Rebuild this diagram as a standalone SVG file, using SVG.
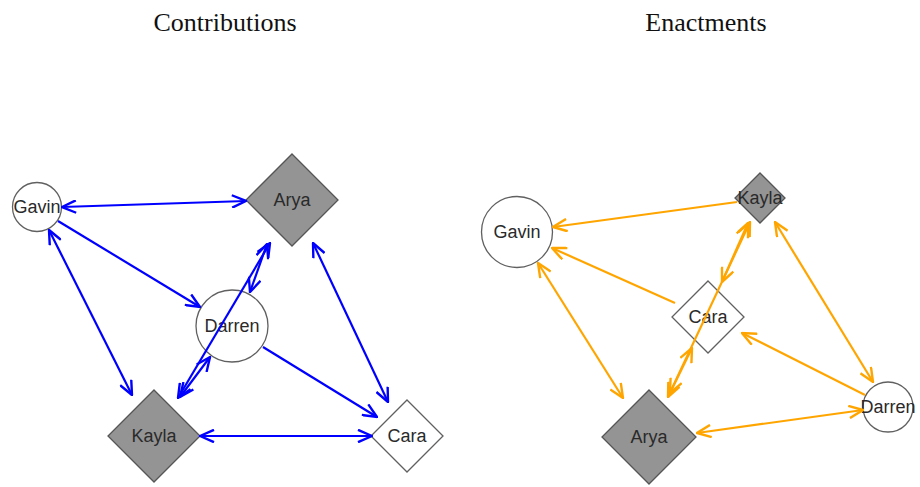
<svg xmlns="http://www.w3.org/2000/svg" width="920" height="487" viewBox="0 0 920 487">
<style>
.title{font-family:"Liberation Serif","Times New Roman",serif;font-size:26px;fill:#111;text-anchor:middle}
.lbl{font-family:"Liberation Sans",Arial,sans-serif;font-size:18px;fill:#2a2a2a;text-anchor:middle}
.w{fill:#fff;stroke:#606060;stroke-width:1.3}
.g{fill:#949494;stroke:#555;stroke-width:1.3}
.eb{stroke:#0000ff;stroke-width:2.2;fill:none}
.eo{stroke:#ffa500;stroke-width:2.2;fill:none}
</style>
<defs>
<marker id="ab" viewBox="0 0 16 14" refX="15" refY="7" markerWidth="16" markerHeight="14" markerUnits="userSpaceOnUse" orient="auto-start-reverse"><path d="M1,0.8 L15,7 L1,13.2" fill="none" stroke="#0000ff" stroke-width="2.4"/></marker>
<marker id="ao" viewBox="0 0 16 14" refX="15" refY="7" markerWidth="16" markerHeight="14" markerUnits="userSpaceOnUse" orient="auto-start-reverse"><path d="M1,0.8 L15,7 L1,13.2" fill="none" stroke="#ffa500" stroke-width="2.4"/></marker>
</defs>
<rect width="920" height="487" fill="#fff"/>
<text class="title" x="225" y="31">Contributions</text>
<text class="title" x="706" y="31">Enactments</text>

<g id="c-gavin"><circle class="w" cx="37" cy="207" r="24.5"/><text class="lbl" x="37" y="213">Gavin</text></g>
<g id="c-arya"><polygon class="g" points="292,154 338,200 292,246 246,200"/><text class="lbl" x="292" y="206">Arya</text></g>
<g id="c-darren"><circle class="w" cx="232" cy="326" r="36"/><text class="lbl" x="232" y="332">Darren</text></g>
<g id="c-kayla"><polygon class="g" points="154,390 200,436 154,482 108,436"/><text class="lbl" x="154" y="442">Kayla</text></g>
<g id="c-cara"><polygon class="w" points="407,400 443,436 407,472 371,436"/><text class="lbl" x="407" y="442">Cara</text></g>

<g id="e-gavin"><circle class="w" cx="517" cy="232" r="35.5"/><text class="lbl" x="517" y="238">Gavin</text></g>
<g id="e-kayla"><polygon class="g" points="760,173 785,198 760,223 735,198"/><text class="lbl" x="760" y="204">Kayla</text></g>
<g id="e-cara"><polygon class="w" points="708,281 744,317 708,353 672,317"/><text class="lbl" x="708" y="323">Cara</text></g>
<g id="e-arya"><polygon class="g" points="649,390 696,437 649,484 602,437"/><text class="lbl" x="649" y="443">Arya</text></g>
<g id="e-darren"><circle class="w" cx="888" cy="407" r="25"/><text class="lbl" x="888" y="413">Darren</text></g>

<g id="connectors">
<g class="eb">
<line x1="62" y1="207" x2="246" y2="201" marker-start="url(#ab)" marker-end="url(#ab)"/>
<line x1="58" y1="221" x2="200" y2="307" marker-end="url(#ab)"/>
<line x1="49" y1="230" x2="132" y2="395" marker-start="url(#ab)" marker-end="url(#ab)"/>
<line x1="313" y1="243" x2="388" y2="402" marker-start="url(#ab)" marker-end="url(#ab)"/>
<line x1="263" y1="347" x2="377" y2="417" marker-end="url(#ab)"/>
<line x1="200" y1="436" x2="372" y2="436" marker-start="url(#ab)" marker-end="url(#ab)"/>
<line x1="270" y1="243" x2="178" y2="398" marker-start="url(#ab)" marker-end="url(#ab)"/>
<line x1="267" y1="244" x2="250" y2="292" marker-start="url(#ab)" marker-end="url(#ab)"/>
<line x1="210" y1="357" x2="180" y2="397" marker-start="url(#ab)" marker-end="url(#ab)"/>
</g>
<g class="eo">
<line x1="737" y1="202" x2="553" y2="227" marker-end="url(#ao)"/>
<line x1="675" y1="303" x2="552" y2="248" marker-end="url(#ao)"/>
<line x1="538" y1="263" x2="623" y2="398" marker-start="url(#ao)" marker-end="url(#ao)"/>
<line x1="775" y1="222" x2="873" y2="382" marker-start="url(#ao)" marker-end="url(#ao)"/>
<line x1="865" y1="395" x2="742" y2="333" marker-end="url(#ao)"/>
<line x1="697" y1="433" x2="863" y2="410" marker-start="url(#ao)" marker-end="url(#ao)"/>
<line x1="750" y1="222" x2="668" y2="397" marker-start="url(#ao)" marker-end="url(#ao)"/>
<line x1="748" y1="223" x2="722" y2="282" marker-start="url(#ao)" marker-end="url(#ao)"/>
<line x1="692" y1="348" x2="670" y2="393" marker-start="url(#ao)" marker-end="url(#ao)"/>
</g>
</g>
</svg>
